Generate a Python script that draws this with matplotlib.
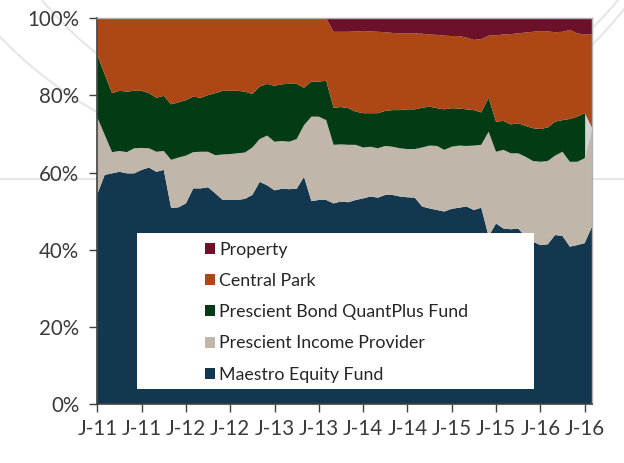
import matplotlib
matplotlib.use("Agg")
import matplotlib.pyplot as plt
import numpy as np
from matplotlib.patches import Rectangle, Arc, Patch

plt.rcParams['font.family'] = ['Lato', 'DejaVu Sans']

tick_labels = ["J-11", "J-11", "J-12", "J-12", "J-13", "J-13",
               "J-14", "J-14", "J-15", "J-15", "J-16", "J-16"]

series_names = ["Maestro Equity Fund", "Prescient Income Provider",
                "Prescient Bond QuantPlus Fund", "Central Park", "Property"]

maestro = [54.4, 59.4, 59.8, 60.2, 59.8, 59.8, 60.7, 61.3, 60.2, 60.7,
           50.8, 51.0, 52.0, 55.9, 55.9, 56.2, 54.6, 52.9, 52.9, 52.9,
           53.2, 54.2, 57.6, 56.7, 55.4, 55.8, 55.7, 55.8, 58.9, 52.6,
           52.9, 52.9, 52.0, 52.5, 52.3, 52.9, 53.3, 53.8, 53.5, 54.2,
           54.2, 53.8, 53.6, 53.5, 51.2, 50.7, 50.3, 49.9, 50.6, 50.9,
           51.2, 50.3, 50.9, 43.5, 46.8, 45.5, 45.3, 45.5, 43.4, 42.1,
           41.2, 41.4, 43.8, 43.6, 40.8, 41.2, 41.7, 46.0]
income = [19.9, 10.4, 5.5, 5.4, 5.5, 6.5, 5.7, 5.0, 5.2, 4.9,
          12.5, 12.9, 12.4, 9.4, 9.5, 9.2, 9.9, 11.8, 11.9, 12.1,
          12.0, 12.3, 11.1, 12.9, 12.6, 12.4, 12.3, 12.9, 13.4, 21.9,
          21.6, 20.7, 15.2, 14.8, 14.9, 14.3, 13.2, 12.9, 12.8, 12.7,
          12.5, 12.5, 12.5, 12.6, 15.3, 16.3, 16.6, 16.0, 16.1, 16.1,
          15.7, 16.7, 16.3, 27.1, 18.6, 20.4, 19.7, 19.5, 20.7, 20.9,
          21.6, 21.6, 20.6, 21.8, 22.0, 21.6, 22.0, 25.5]
bond = [16.2, 15.7, 15.3, 15.6, 15.7, 14.9, 14.8, 14.3, 14.0, 14.3,
        14.4, 14.3, 14.4, 14.4, 14.0, 14.7, 16.1, 16.5, 16.4, 16.2,
        15.8, 13.9, 13.6, 13.4, 14.5, 14.7, 15.0, 14.3, 9.7, 9.1,
        9.1, 10.2, 9.6, 9.7, 9.5, 8.6, 8.9, 8.7, 9.1, 9.1,
        9.5, 9.9, 10.3, 10.3, 10.3, 10.1, 9.8, 10.5, 10.0, 9.6,
        9.5, 9.2, 8.4, 8.8, 7.8, 7.5, 7.5, 7.8, 8.0, 8.5,
        8.5, 8.7, 8.8, 8.2, 11.1, 11.7, 11.7, 0.0]
central_park = [9.5, 14.5, 19.4, 18.8, 19.0, 18.8, 18.8, 19.4, 20.6, 20.1,
                22.3, 21.8, 21.2, 20.3, 20.6, 19.9, 19.4, 18.8, 18.8, 18.8,
                19.0, 19.6, 17.7, 17.0, 17.5, 17.1, 17.0, 17.0, 18.0, 16.4,
                16.4, 16.2, 19.7, 19.5, 19.8, 20.8, 21.3, 21.2, 21.1, 20.4,
                20.0, 19.9, 19.7, 19.7, 19.2, 18.7, 19.0, 19.1, 18.7, 18.8,
                18.6, 18.2, 19.0, 16.1, 22.4, 22.4, 23.4, 23.3, 24.2, 25.0,
                25.4, 24.9, 23.2, 22.9, 23.1, 21.6, 20.4, 24.3]
property_ = [0.0] * 32 + [3.5, 3.5, 3.5, 3.4, 3.3, 3.4, 3.5, 3.6,
                          3.8, 3.9, 3.9, 3.9, 4.0, 4.2, 4.3, 4.5, 4.6, 4.6,
                          5.0, 5.6, 5.4, 4.5, 4.4, 4.2, 4.1, 3.9, 3.7, 3.5,
                          3.3, 3.4, 3.6, 3.5, 3.0, 3.9, 4.2, 4.2]

colors = ["#12374f", "#c0b6aa", "#023b14", "#ad4715", "#6c1129"]

W, H = 624, 463
fig = plt.figure(figsize=(W / 100, H / 100), dpi=100)

# faint watermark in the background
bg = fig.add_axes([0, 0, 1, 1], zorder=0)
bg.set_xlim(0, W)
bg.set_ylim(H, 0)
bg.axis("off")
wm = "#e6e6e6"
bg.add_patch(Arc((300, -250), 830, 830, theta1=0, theta2=360, color=wm, lw=1.5))
bg.add_patch(Arc((330, -240), 750, 750, theta1=0, theta2=360, color=wm, lw=1.5))
bg.axhline(179, color=wm, lw=1.5)

ax = fig.add_axes([97.3 / W, 1 - 404 / H, (592 - 97.3) / W, (404 - 18.3) / H], zorder=1)
data = np.array([maestro, income, bond, central_park, property_])
x = np.arange(data.shape[1])
ax.stackplot(x, data, colors=colors, labels=series_names, lw=0)

# last segment rendered light grey in the source chart
cum = np.cumsum(data, axis=0)
ax.fill_between(x[-2:], cum[1][-2:], cum[2][-2:], color="#d4d4d4", lw=0)

ax.set_xlim(0, len(x) - 1)
ax.set_ylim(0, 100)
ax.set_xticks(np.arange(0, len(x), 6))
ax.set_xticklabels(tick_labels)
ax.set_yticks(np.arange(0, 101, 20))
ax.set_yticklabels([f"{v}%" for v in range(0, 101, 20)])
ax.tick_params(axis="both", direction="out", length=6, width=1, color="#404040",
               labelsize=14.8, labelcolor="#3a3a3a")
ax.tick_params(axis="y", pad=7)
ax.tick_params(axis="x", pad=5)
for s in ["left", "bottom"]:
    ax.spines[s].set_color("#404040")
    ax.spines[s].set_linewidth(1.2)
for s in ["top", "right"]:
    ax.spines[s].set_color("#b0b0b0")
    ax.spines[s].set_linewidth(1)

# legend panel
x0 = (136.7 - 97.3) / (592 - 97.3)
x1 = (534 - 97.3) / (592 - 97.3)
y0 = (404 - 389.3) / 385.7
y1 = (404 - 233.3) / 385.7
ax.add_patch(Rectangle((x0, y0), x1 - x0, y1 - y0, transform=ax.transAxes,
                       facecolor="white", edgecolor="none", zorder=5))
handles = [Patch(facecolor=c, edgecolor="none") for c in colors][::-1]
leg = ax.legend(handles, series_names[::-1], loc="upper left",
                bbox_to_anchor=((205 - 97.3) / 494.7, (404 - 241.5) / 385.7),
                frameon=False, fontsize=12.8, handlelength=0.58, handleheight=0.58,
                handletextpad=0.22, labelspacing=0.86, borderpad=0, borderaxespad=0)
for t in leg.get_texts():
    t.set_color("#262626")
leg.set_zorder(6)

fig.savefig("out.png", dpi=100)
